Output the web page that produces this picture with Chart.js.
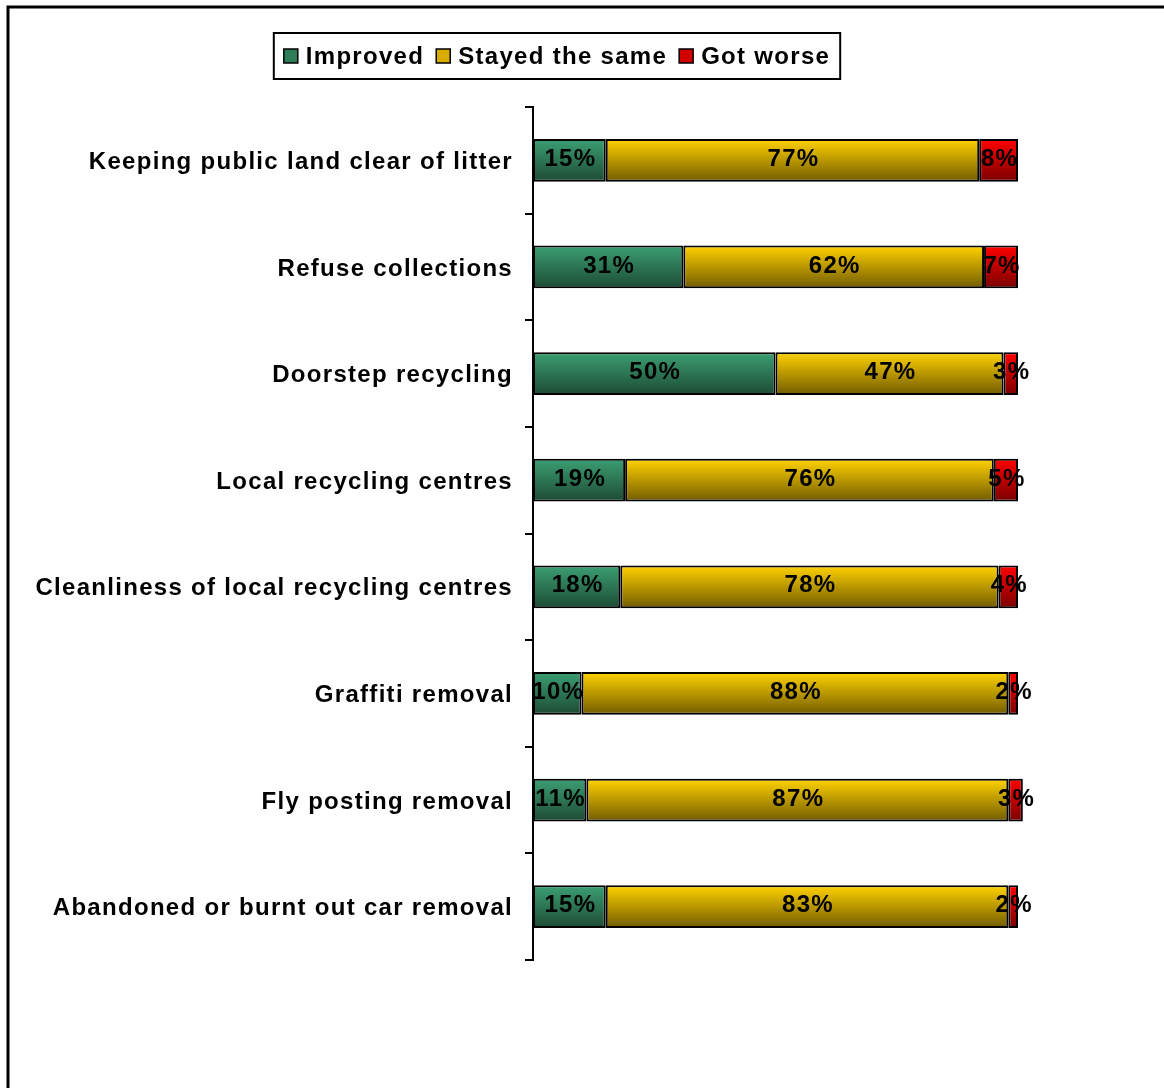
<!DOCTYPE html>
<html>
<head>
<meta charset="utf-8">
<script src="https://cdn.jsdelivr.net/npm/chart.js@4"></script>
<style>
  body { margin: 0; background: #fff; }
  #wrap { width: 1164px; height: 1088px; position: relative; }
</style>
</head>
<body>
<div id="wrap"><canvas id="canva" width="1164" height="1088"></canvas></div>
<script>
var categories = [
  'Keeping public land clear of litter',
  'Refuse collections',
  'Doorstep recycling',
  'Local recycling centres',
  'Cleanliness of local recycling centres',
  'Graffiti removal',
  'Fly posting removal',
  'Abandoned or burnt out car removal'
];
var improved = [15, 31, 50, 19, 18, 10, 11, 15];
var stayedSame = [77, 62, 47, 76, 78, 88, 87, 83];
var gotWorse = [8, 7, 3, 5, 4, 2, 3, 2];

var FONT = 'Liberation Sans, Arial, sans-serif';
var SPACING = '1.3px';

// vertical gradient per bar, top light -> bottom dark
function grad(top, bottom) {
  return function (c) {
    var chart = c.chart;
    if (!chart.chartArea || !chart.scales.y) return top;
    var y = chart.scales.y.getPixelForValue(c.dataIndex);
    var g = chart.ctx.createLinearGradient(0, y - 21, 0, y + 21);
    g.addColorStop(0, top);
    g.addColorStop(1, bottom);
    return g;
  };
}

var series = [
  { label: 'Improved', data: improved, top: '#3b9e72', bottom: '#1d4b35', swatch: '#2e7d57' },
  { label: 'Stayed the same', data: stayedSame, top: '#ffd200', bottom: '#725c00', swatch: '#d8ac00' },
  { label: 'Got worse', data: gotWorse, top: '#ff0000', bottom: '#7a0000', swatch: '#d00000' }
];

var frame = {
  id: 'frame',
  beforeDraw: function (chart) {
    var ctx = chart.ctx;
    ctx.save();
    ctx.fillStyle = '#fff';
    ctx.fillRect(0, 0, chart.width, chart.height);
    ctx.strokeStyle = '#000';
    ctx.lineWidth = 3;
    ctx.beginPath();
    ctx.moveTo(8, chart.height);
    ctx.lineTo(8, 7);
    ctx.lineTo(chart.width, 7);
    ctx.stroke();
    ctx.restore();
    // wider tracking for every text drawn afterwards (tick labels too)
    ctx.letterSpacing = SPACING;
  }
};

var barLabels = {
  id: 'barLabels',
  afterDatasetsDraw: function (chart) {
    var ctx = chart.ctx;
    ctx.save();
    ctx.letterSpacing = SPACING;
    ctx.font = 'bold 24px ' + FONT;
    ctx.fillStyle = '#000';
    ctx.textAlign = 'center';
    ctx.textBaseline = 'middle';
    chart.data.datasets.forEach(function (ds, i) {
      chart.getDatasetMeta(i).data.forEach(function (el, j) {
        var cx = (el.x + el.base) / 2;
        ctx.fillText(ds.data[j] + '%', cx + 1, el.y - 1);
      });
    });
    ctx.restore();
  }
};

var legendBox = {
  id: 'legendBox',
  afterDraw: function (chart) {
    var ctx = chart.ctx;
    ctx.save();
    ctx.letterSpacing = SPACING;
    ctx.font = 'bold 24px ' + FONT;
    var sq = 14, gapSq = 8, gapItem = 12, pad = 10;
    var total = 0;
    series.forEach(function (s, i) {
      total += sq + gapSq + ctx.measureText(s.label).width + (i ? gapItem : 0);
    });
    var w = total + pad * 2, h = 46;
    var cx = 557, top = 33;
    var left = cx - w / 2;
    ctx.strokeStyle = '#000';
    ctx.lineWidth = 2;
    ctx.strokeRect(left, top, w, h);
    var x = left + pad, my = top + h / 2;
    ctx.textBaseline = 'middle';
    ctx.textAlign = 'left';
    series.forEach(function (s) {
      ctx.fillStyle = s.swatch;
      ctx.fillRect(x, my - sq / 2, sq, sq);
      ctx.lineWidth = 1.5;
      ctx.strokeRect(x, my - sq / 2, sq, sq);
      x += sq + gapSq;
      ctx.fillStyle = '#000';
      ctx.fillText(s.label, x, my + 1);
      x += ctx.measureText(s.label).width + gapItem;
    });
    ctx.restore();
  }
};

new Chart(document.getElementById('canva'), {
  type: 'bar',
  data: {
    labels: categories,
    datasets: series.map(function (s) {
      return {
        label: s.label,
        data: s.data,
        backgroundColor: grad(s.top, s.bottom),
        borderColor: '#000',
        borderWidth: 2,
        borderSkipped: false,
        categoryPercentage: 1,
        barPercentage: 0.4,
        clip: false
      };
    })
  },
  options: {
    indexAxis: 'y',
    responsive: false,
    animation: false,
    layout: { padding: { left: 0, right: 146, top: 107, bottom: 128 } },
    plugins: {
      legend: { display: false },
      tooltip: { enabled: false }
    },
    scales: {
      x: {
        stacked: true,
        display: false,
        min: 0,
        max: 100
      },
      y: {
        stacked: true,
        afterFit: function (scale) { scale.width = 533; },
        border: { display: true, color: '#000', width: 2 },
        grid: {
          offset: true,
          drawOnChartArea: false,
          color: '#000',
          lineWidth: 2,
          tickLength: 8
        },
        ticks: {
          color: '#000',
          padding: 12,
          labelOffset: 2,
          font: { family: FONT, size: 24, weight: 'bold' }
        }
      }
    }
  },
  plugins: [frame, barLabels, legendBox]
});
</script>
</body>
</html>
